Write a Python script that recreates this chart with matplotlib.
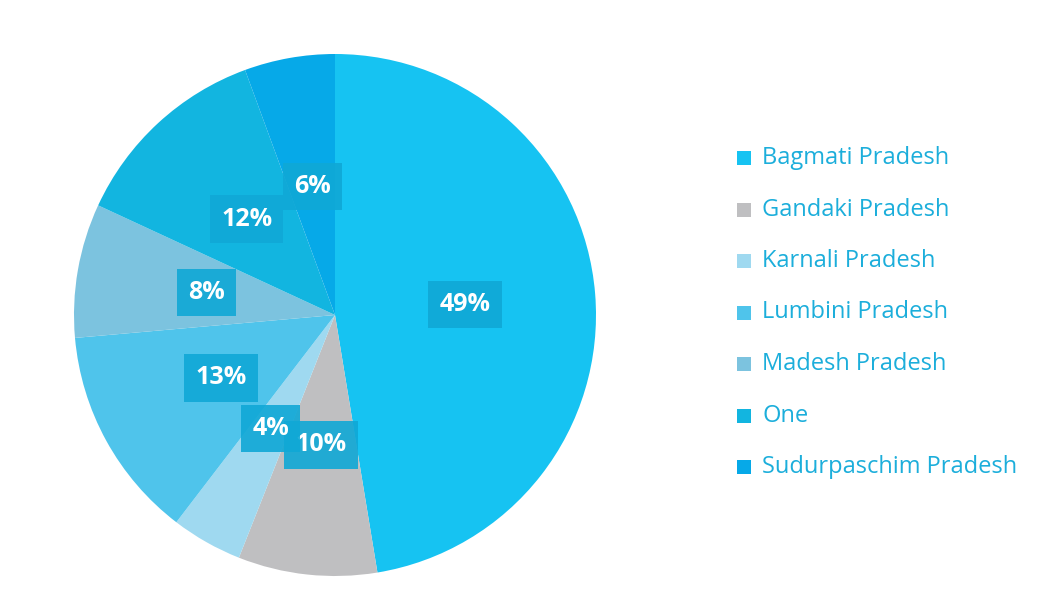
import matplotlib
matplotlib.use("Agg")
import matplotlib.pyplot as plt
from matplotlib.patches import Rectangle

# ---- data ----
provinces = ["Bagmati Pradesh", "Gandaki Pradesh", "Karnali Pradesh", "Lumbini Pradesh",
             "Madesh Pradesh", "One", "Sudurpaschim Pradesh"]
shares = [47.4, 8.6, 4.4, 13.2, 8.3, 12.5, 5.6]
pct_labels = ["49%", "10%", "4%", "13%", "8%", "12%", "6%"]
colors = ["#16C3F2", "#BFBFC1", "#9FD9F0", "#4FC4EB", "#7CC3DF", "#12B5E0", "#06A9E8"]

W, H = 1038, 605
fig = plt.figure(figsize=(W / 100, H / 100), dpi=100)
fig.patch.set_facecolor("white")

cx, cy, r = 335, 315, 261
ax = fig.add_axes([(cx - r) / W, (H - cy - r) / H, 2 * r / W, 2 * r / H])
wedges, texts, autotexts = ax.pie(
    shares, colors=colors, startangle=90, counterclock=False,
    autopct=lambda p: "", pctdistance=0.5,
    wedgeprops=dict(linewidth=0), radius=1.0)
for t, lab in zip(autotexts, pct_labels):
    t.set_text(lab)
    t.set_color("white")
    t.set_fontsize(18)
    t.set_fontweight("bold")
    t.set_family("Open Sans")
    t.set_bbox(dict(boxstyle="square,pad=0.45", facecolor="#10A8D6", edgecolor="none", alpha=0.9))
ax.set_xlim(-1, 1)
ax.set_ylim(-1, 1)
ax.set_aspect("equal")
ax.axis("off")

# ---- legend ----
y0 = 158
dy = 51.5
for i, (name, col) in enumerate(zip(provinces, colors)):
    y = y0 + i * dy
    s = 14
    fig.patches.append(Rectangle((737 / W, (H - y - s / 2) / H), s / W, s / H,
                                 transform=fig.transFigure, facecolor=col, edgecolor="none"))
    fig.text(762 / W, (H - y) / H, name, color="#1CAEDB", fontsize=17,
             family="Open Sans", va="center", ha="left")

fig.savefig("out.png", dpi=100, facecolor="white")
